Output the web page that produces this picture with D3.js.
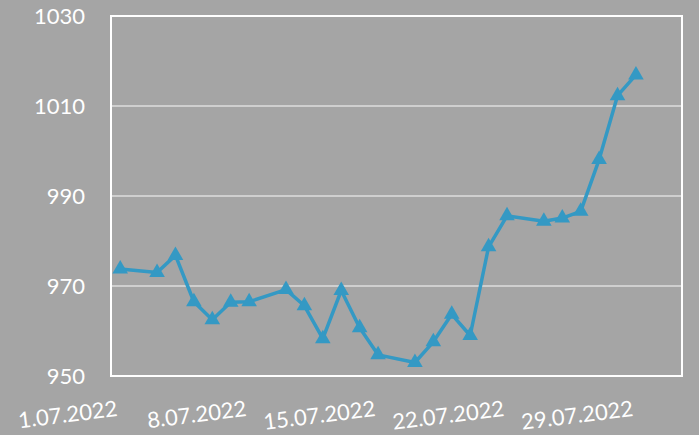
<!DOCTYPE html>
<html>
<head>
<meta charset="utf-8">
<script src="https://cdnjs.cloudflare.com/ajax/libs/d3/7.8.5/d3.min.js"></script>
<style>
  html, body { margin: 0; padding: 0; background: #a5a5a5; }
  svg { display: block; }
  .lbl { font-family: Lato, "Open Sans", sans-serif; font-size: 22px; fill: #ffffff; }
</style>
</head>
<body>
<div id="chart"></div>
<script>
// day of July 2022 for each reading
const days = [1, 3, 4, 5, 6, 7, 8, 10, 11, 12, 13, 14, 15, 17, 18, 19, 20, 21, 22, 24, 25, 26, 27, 28, 29];
const values = [973.8, 973.0, 976.8, 966.5, 962.5, 966.4, 966.5, 969.2, 965.6, 958.3, 969.0, 960.7, 954.7,
                953.0, 957.6, 963.7, 959.0, 978.7, 985.6, 984.4, 985.1, 986.6, 998.1, 1012.3, 1016.9];
const yTicks = [950, 970, 990, 1010, 1030];
const xTickDays = [1, 8, 15, 22, 29];

const width = 699, height = 435;
const margin = { left: 111, right: 17, top: 16, bottom: 59 };

let svg = d3.select('#chart').append('svg')
    .attr('width', width)
    .attr('height', height);

svg.append('rect')
    .attr('width', width)
    .attr('height', height)
    .attr('fill', '#a5a5a5');

let x = d3.scaleTime()
    .domain([new Date(2022, 5, 30, 12), new Date(2022, 6, 31, 12)])
    .range([margin.left, width - margin.right]);

let y = d3.scaleLinear()
    .domain([950, 1030])
    .range([height - margin.bottom, margin.top]);

let points = days.map((d, i) => ({ date: new Date(2022, 6, d), value: values[i] }));

// gridlines
svg.append('g')
    .selectAll('line')
    .data(yTicks.filter(t => t > 950 && t < 1030))
    .enter().append('line')
    .attr('x1', margin.left)
    .attr('x2', width - margin.right)
    .attr('y1', d => y(d))
    .attr('y2', d => y(d))
    .attr('stroke', '#dedede')
    .attr('stroke-width', 1.5);

// frame
svg.append('rect')
    .attr('x', margin.left)
    .attr('y', margin.top)
    .attr('width', width - margin.right - margin.left)
    .attr('height', height - margin.bottom - margin.top)
    .attr('fill', 'none')
    .attr('stroke', '#ffffff')
    .attr('stroke-width', 2);

// y labels
svg.append('g')
    .selectAll('text')
    .data(yTicks)
    .enter().append('text')
    .attr('class', 'lbl')
    .attr('x', 85)
    .attr('y', d => y(d))
    .attr('dy', '0.35em')
    .attr('text-anchor', 'end')
    .text(d => d);

// x labels, slightly rotated
let fmt = d3.timeFormat('%-d.%m.%Y');
svg.append('g')
    .selectAll('text')
    .data(xTickDays.map(d => new Date(2022, 6, d)))
    .enter().append('text')
    .attr('class', 'lbl')
    .attr('text-anchor', 'end')
    .attr('transform', d => `translate(${x(d) - 2},416) rotate(-7)`)
    .text(d => fmt(d));

// line
let line = d3.line()
    .x(d => x(d.date))
    .y(d => y(d.value));

svg.append('path')
    .datum(points)
    .attr('d', line)
    .attr('fill', 'none')
    .attr('stroke', '#3499c4')
    .attr('stroke-width', 3.5)
    .attr('stroke-linejoin', 'round');

// triangle markers
let tri = d3.symbol().type(d3.symbolTriangle).size(105);
svg.append('g')
    .selectAll('path')
    .data(points)
    .enter().append('path')
    .attr('d', tri)
    .attr('transform', d => `translate(${x(d.date)},${y(d.value)})`)
    .attr('fill', '#3499c4');
</script>
</body>
</html>
